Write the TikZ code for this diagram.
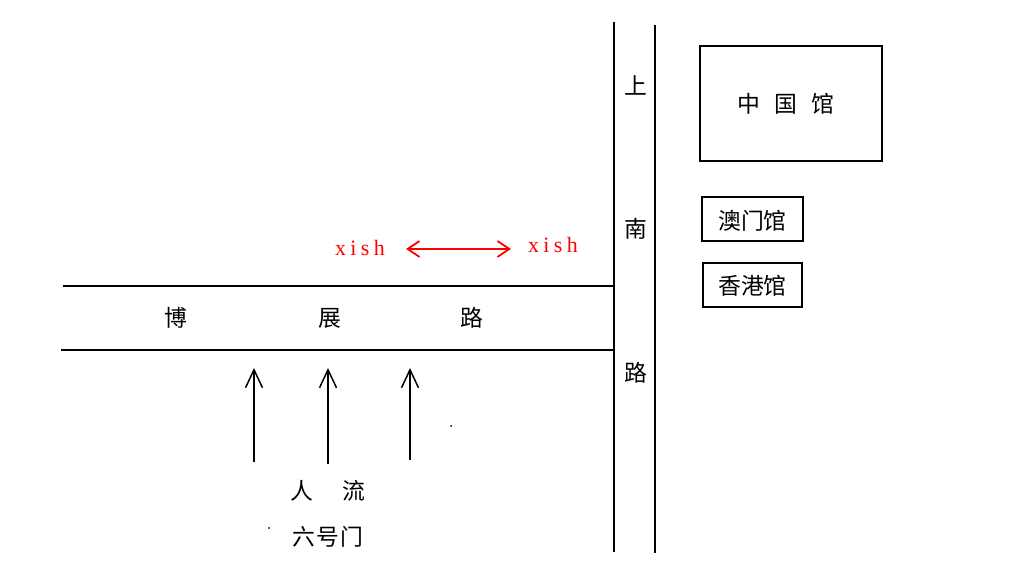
\documentclass[tikz,border=0pt]{standalone}
\usepackage{fontspec}
\setmainfont{Noto Sans CJK SC}
\newfontfamily\latinfont[LetterSpace=20]{Liberation Serif}
\usetikzlibrary{arrows.meta}
\tikzset{
  road/.style={line width=0.04cm,black},
  hall/.style={draw,line width=0.045cm,inner sep=0pt,font=\fontsize{13pt}{15pt}\selectfont},
  cn/.style={font=\fontsize{13pt}{15pt}\selectfont,inner sep=0pt},
  tag/.style={red,font=\fontsize{12.5pt}{14pt}\latinfont,inner sep=0pt},
  flow/.style={line width=0.04cm,-{Straight Barb[length=0.36cm,width=0.34cm,line width=0.03cm]}},
  span/.style={red,line width=0.05cm,{Straight Barb[length=0.24cm,width=0.32cm,line width=0.035cm]}-{Straight Barb[length=0.24cm,width=0.32cm,line width=0.035cm]}}
}
\begin{document}
\begin{tikzpicture}[x=0.02cm,y=-0.02cm]
\useasboundingbox (0,0) rectangle (1025,567);

\draw[road] (63,286) -- (613,286);
\draw[road] (61,350) -- (613,350);
\draw[road] (614,22) -- (614,552);
\draw[road] (655,25) -- (655,553);

\node[cn] (bo) at (176,318) {博};
\node[cn] (zhan) at (330,318) {展};
\node[cn] (lu) at (472,318) {路};

\node[cn] (shang) at (636,85) {上};
\node[cn] (nan) at (636,229) {南};
\node[cn] (lunan) at (636,373) {路};

\node[hall,minimum width=3.64cm,minimum height=2.3cm] (china) at (791,103.5) {中\hspace{0.28cm}国\hspace{0.28cm}馆\kern0.2cm};
\node[hall,minimum width=2.02cm,minimum height=0.88cm,text height=0.52cm,text depth=0.08cm] (macau) at (752.5,219) {澳门馆};
\node[hall,minimum width=1.98cm,minimum height=0.88cm,text height=0.48cm,text depth=0.1cm] (hk) at (752.5,285) {香港馆};

\node[tag] (xleft) at (360,248) {xish};
\node[tag] (xright) at (553,245) {xish};
\coordinate (sl) at (406,249);
\coordinate (sr) at (511,249);
\draw[span] (sl) -- (sr);

\coordinate (a1) at (254,462);
\coordinate (b1) at (254,368);
\coordinate (a2) at (328,464);
\coordinate (b2) at (328,368);
\coordinate (a3) at (410,460);
\coordinate (b3) at (410,368);
\draw[flow] (a1) -- (b1);
\draw[flow] (a2) -- (b2);
\draw[flow] (a3) -- (b3);

\node[cn] (ren) at (302,491) {人};
\node[cn] (liu) at (354,491) {流};
\node[cn] (gate) at (328,537) {六\hspace{0.03cm}号\hspace{0.03cm}门};

\fill (451,426) circle (0.02cm);
\fill (269,528) circle (0.02cm);
\end{tikzpicture}
\end{document}
